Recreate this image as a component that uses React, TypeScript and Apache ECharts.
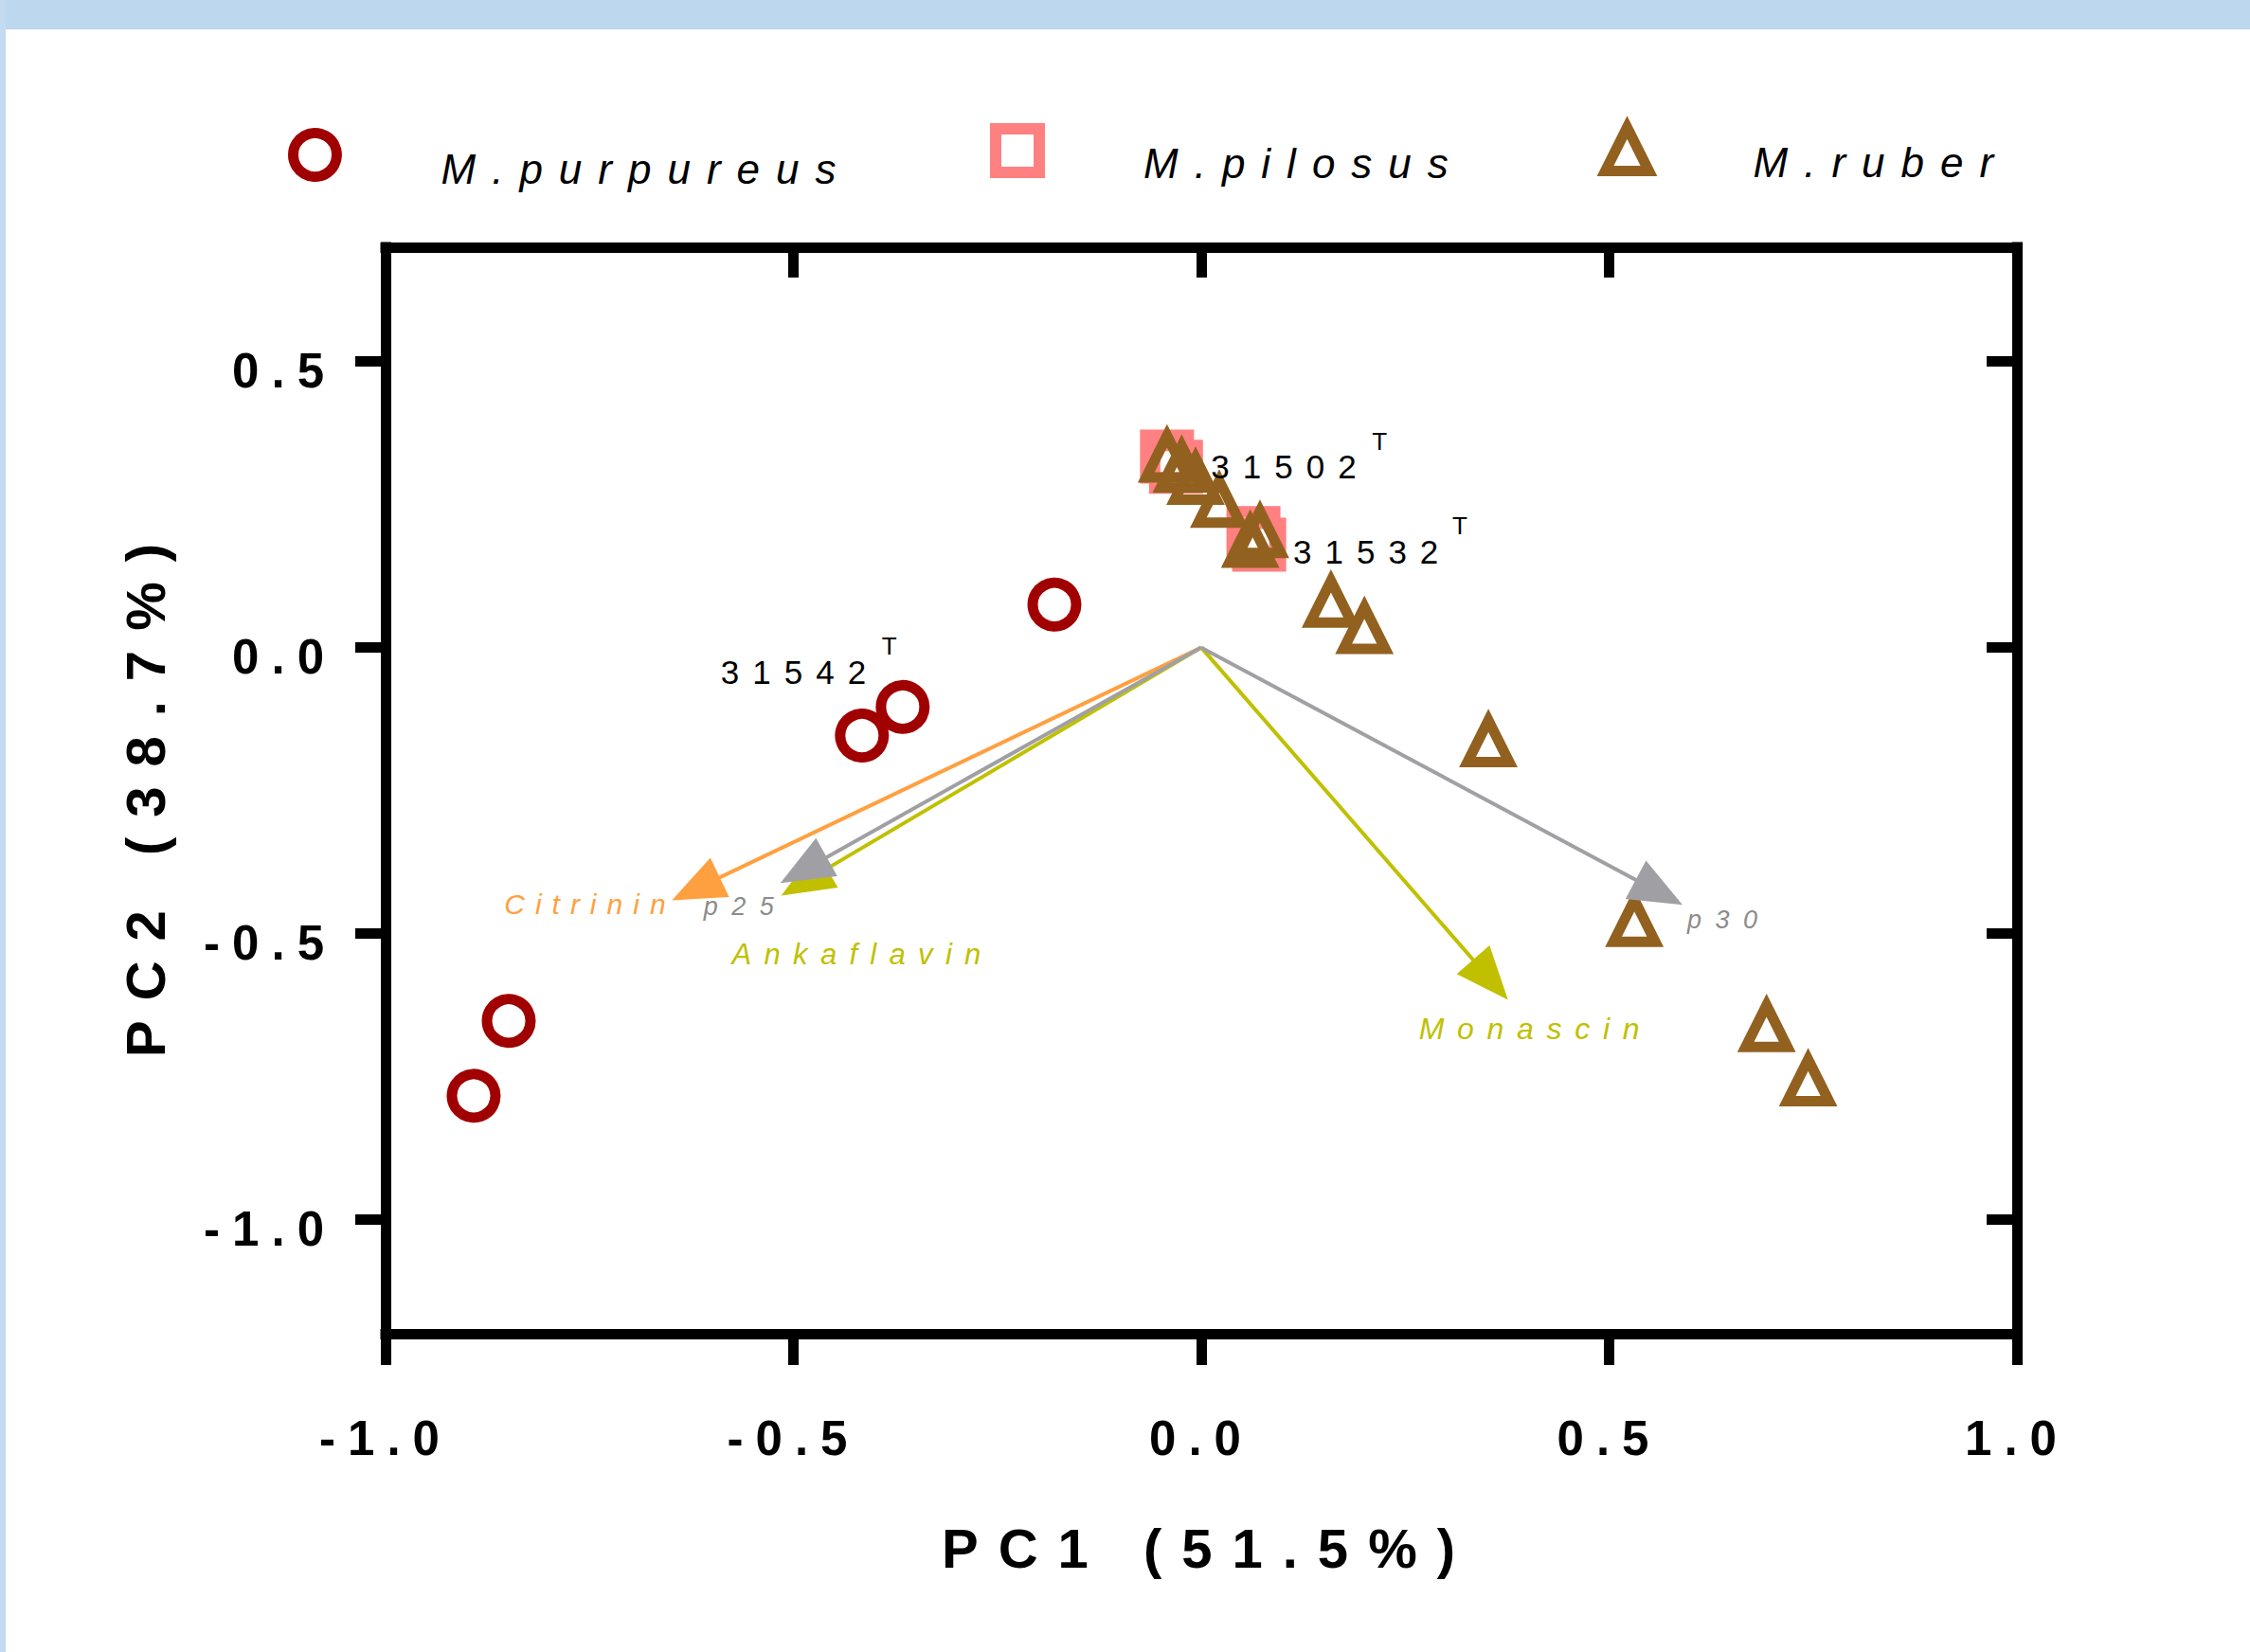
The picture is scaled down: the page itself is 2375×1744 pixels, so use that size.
import React, { useEffect, useRef } from 'react';
import * as echarts from 'echarts';

const FONT = '"Liberation Sans", Arial, Helvetica, sans-serif';

// ---- axes ----
const xRange = [-1.0, 1.0];
const yRange = [-1.2, 0.7];
const xTicks = [-1.0, -0.5, 0.0, 0.5, 1.0];
const yTicks = [-1.0, -0.5, 0.0, 0.5];
const topTicks = [-0.5, 0.0, 0.5];
const xTitle = 'PC1 (51.5%)';
const yTitle = 'PC2 (38.7%)';

// ---- scores ----
const speciesNames = ['M.purpureus', 'M.pilosus', 'M.ruber'];

const purpureusX = [-0.18, -0.366, -0.416, -0.849, -0.892];
const purpureusY = [0.075, -0.104, -0.154, -0.653, -0.784];

const pilosusX = [-0.042, -0.031, 0.064, 0.071];
const pilosusY = [0.334, 0.316, 0.2, 0.18];

const ruberX = [-0.042, -0.024, -0.007, 0.022, 0.06, 0.072, 0.159, 0.2, 0.352, 0.531, 0.693, 0.744];
const ruberY = [0.334, 0.316, 0.295, 0.255, 0.185, 0.202, 0.08, 0.034, -0.164, -0.478, -0.662, -0.757];

// ---- loadings (arrow tips) ----
const loadingNames = ['Ankaflavin', 'Citrinin', 'p25', 'Monascin', 'p30'];
const loadingX = [-0.515, -0.649, -0.516, 0.376, 0.59];
const loadingY = [-0.434, -0.442, -0.412, -0.616, -0.45];

// ---- strain annotations ----
const strainLabels = ['31502', '31532', '31542'];
const strainSpecies = ['M.ruber', 'M.ruber', 'M.purpureus'];
const strainIndex = [1, 5, 1];

// ---- styles ----
const speciesStyle: Record<string, any> = {
  'M.purpureus': { symbol: 'circle', size: 46, color: '#A00000', border: 11, legendLeft: 304, legendTop: 135, textPad: 30 },
  'M.pilosus': { symbol: 'rect', size: 45, color: '#FF8080', border: 12, legendLeft: 1045, legendTop: 130, textPad: 26 },
  'M.ruber': { symbol: 'triangle', size: 44, color: '#926120', border: 11, legendLeft: 1689, legendTop: 129, textPad: 27 },
};

const loadingStyle: Record<string, any> = {
  Ankaflavin: { color: '#C0C000', text: '#C0C000', size: 31, dx: -52, dy: 62 },
  Citrinin: { color: '#FFA040', text: '#FFA040', size: 30, dx: -177, dy: 4.5 },
  p25: { color: '#A0A0A4', text: '#8C8C8C', size: 27, dx: -81, dy: 24.5 },
  Monascin: { color: '#C0C000', text: '#C0C000', size: 32, dx: -94, dy: 31 },
  p30: { color: '#A0A0A4', text: '#8C8C8C', size: 27, dx: 5, dy: 15.5 },
};

const strainStyle = [
  { dx: 31, dy: 0, supDx: 201, supDy: -27 },
  { dx: 35, dy: 20.5, supDx: 203, supDy: -7 },
  { dx: -192, dy: -36.5, supDx: -22, supDy: -64.5 },
];

const css = `
.pca text[style*="51px"] { letter-spacing: 13px; }
.pca text[style*="58px"] { letter-spacing: 21px; }
.pca text[style*="44px"] { letter-spacing: 17px; }
.pca text[style*="35px"] { letter-spacing: 14px; }
.pca text[style*="30px"] { letter-spacing: 11px; }
.pca text[style*="31px"] { letter-spacing: 13.3px; }
.pca text[style*="32px"] { letter-spacing: 13.7px; }
.pca text[style*="27px"] { letter-spacing: 14.5px; }
`;

const speciesX: Record<string, number[]> = { 'M.purpureus': purpureusX, 'M.pilosus': pilosusX, 'M.ruber': ruberX };
const speciesY: Record<string, number[]> = { 'M.purpureus': purpureusY, 'M.pilosus': pilosusY, 'M.ruber': ruberY };

export default function App() {
  const ref = useRef<HTMLDivElement>(null);

  useEffect(() => {
    document.body.style.margin = '0';
    if (!ref.current) return;
    const chart = echarts.init(ref.current, null, { renderer: 'svg' });

    const axisLineStyle = { color: '#000', width: 11, cap: 'square' };

    const scatterSeries = speciesNames.map((n) => {
      const st = speciesStyle[n];
      return {
        type: 'scatter',
        name: n,
        xAxisIndex: 0,
        yAxisIndex: 0,
        symbol: st.symbol,
        symbolSize: st.size,
        itemStyle: { color: 'rgba(255,255,255,0)', borderColor: st.color, borderWidth: st.border, opacity: 1 },
        data: speciesX[n].map((x, i) => [x, speciesY[n][i]]),
        z: 2,
      };
    });

    const arrowSeries = {
      type: 'custom',
      name: 'loadings',
      coordinateSystem: 'cartesian2d',
      xAxisIndex: 0,
      yAxisIndex: 0,
      z: 3,
      silent: true,
      data: loadingNames.map((n, i) => [loadingX[i], loadingY[i], i]),
      renderItem: (params: any, api: any) => {
        const i = api.value(2);
        const name = loadingNames[i];
        const st = loadingStyle[name];
        const tip = api.coord([api.value(0), api.value(1)]);
        const o = api.coord([0, 0]);
        const dx = tip[0] - o[0];
        const dy = tip[1] - o[1];
        const len = Math.hypot(dx, dy);
        const ux = dx / len;
        const uy = dy / len;
        const headLen = 56;
        const headW = 46;
        const bx = tip[0] - ux * headLen;
        const by = tip[1] - uy * headLen;
        const px = -uy;
        const py = ux;
        return {
          type: 'group',
          children: [
            {
              type: 'line',
              shape: { x1: o[0], y1: o[1], x2: bx + ux * 4, y2: by + uy * 4 },
              style: { stroke: st.color, lineWidth: 4 },
            },
            {
              type: 'polygon',
              shape: {
                points: [
                  [tip[0], tip[1]],
                  [bx + (px * headW) / 2, by + (py * headW) / 2],
                  [bx - (px * headW) / 2, by - (py * headW) / 2],
                ],
              },
              style: { fill: st.color },
            },
            {
              type: 'text',
              x: tip[0] + st.dx,
              y: tip[1] + st.dy,
              style: {
                text: name,
                fill: st.text,
                fontSize: st.size,
                fontStyle: 'italic',
                fontFamily: FONT,
                align: 'left',
                verticalAlign: 'middle',
              },
            },
          ],
        };
      },
    };

    const strainSeries = {
      type: 'custom',
      name: 'strains',
      coordinateSystem: 'cartesian2d',
      xAxisIndex: 0,
      yAxisIndex: 0,
      z: 4,
      silent: true,
      data: strainLabels.map((s, i) => [
        speciesX[strainSpecies[i]][strainIndex[i]],
        speciesY[strainSpecies[i]][strainIndex[i]],
        i,
      ]),
      renderItem: (params: any, api: any) => {
        const i = api.value(2);
        const st = strainStyle[i];
        const p = api.coord([api.value(0), api.value(1)]);
        return {
          type: 'group',
          children: [
            {
              type: 'text',
              x: p[0] + st.dx,
              y: p[1] + st.dy,
              style: { text: strainLabels[i], fill: '#000', fontSize: 35, fontFamily: FONT, align: 'left', verticalAlign: 'middle' },
            },
            {
              type: 'text',
              x: p[0] + st.supDx,
              y: p[1] + st.supDy,
              style: { text: 'T', fill: '#000', fontSize: 26, fontFamily: FONT, align: 'left', verticalAlign: 'middle' },
            },
          ],
        };
      },
    };

    const option: any = {
      animation: false,
      backgroundColor: '#FFFFFF',
      textStyle: { fontFamily: FONT },
      graphic: {
        elements: [
          { type: 'rect', left: 0, top: 0, shape: { width: 2375, height: 31 }, style: { fill: '#BDD7EE' }, silent: true },
          { type: 'rect', left: 0, top: 0, shape: { width: 6, height: 1744 }, style: { fill: '#C3DBF0' }, silent: true },
        ],
      },
      legend: speciesNames.map((n) => {
        const st = speciesStyle[n];
        return {
          data: [n],
          left: st.legendLeft,
          top: st.legendTop,
          padding: 0,
          itemWidth: 46,
          itemHeight: 46,
          selectedMode: false,
          itemStyle: { borderWidth: st.border, borderColor: st.color, color: 'rgba(255,255,255,0)' },
          formatter: (name: string) => `{t|${name}}`,
          textStyle: {
            fontSize: 44,
            fontStyle: 'italic',
            fontFamily: FONT,
            color: '#000',
            rich: {
              t: {
                fontSize: 44,
                fontStyle: 'italic',
                fontFamily: FONT,
                color: '#000',
                padding: [st.textPad, 0, 0, 105],
              },
            },
          },
        };
      }),
      grid: { left: 407, top: 261, right: 246, bottom: 336, containLabel: false },
      xAxis: [
        {
          type: 'value',
          position: 'bottom',
          min: xRange[0],
          max: xRange[1],
          splitLine: { show: false },
          axisLine: { onZero: false, lineStyle: axisLineStyle },
          axisTick: { customValues: xTicks, length: 33, inside: false, lineStyle: { color: '#000', width: 11 } },
          axisLabel: {
            customValues: xTicks,
            formatter: (v: number) => v.toFixed(1),
            fontSize: 51,
            fontWeight: 'bold',
            fontFamily: FONT,
            color: '#000',
            margin: 85,
          },
          name: xTitle,
          nameLocation: 'middle',
          nameGap: 197,
          nameTextStyle: { fontSize: 58, fontWeight: 'bold', fontFamily: FONT, color: '#000', padding: [0, 0, 0, 15] },
        },
        {
          type: 'value',
          position: 'top',
          min: xRange[0],
          max: xRange[1],
          splitLine: { show: false },
          axisLine: { onZero: false, lineStyle: axisLineStyle },
          axisTick: { customValues: topTicks, length: 32, inside: true, lineStyle: { color: '#000', width: 11 } },
          axisLabel: { show: false },
        },
      ],
      yAxis: [
        {
          type: 'value',
          position: 'left',
          min: yRange[0],
          max: yRange[1],
          splitLine: { show: false },
          axisLine: { onZero: false, lineStyle: axisLineStyle },
          axisTick: { customValues: yTicks, length: 32, inside: false, lineStyle: { color: '#000', width: 11 } },
          axisLabel: {
            customValues: yTicks,
            formatter: (v: number) => `{v|${v.toFixed(1)}}`,
            margin: 52,
            rich: {
              v: {
                fontSize: 51,
                fontWeight: 'bold',
                fontFamily: FONT,
                color: '#000',
                padding: [20, 0, 0, 0],
              },
            },
          },
          name: yTitle,
          nameLocation: 'middle',
          nameGap: 225,
          nameTextStyle: { fontSize: 58, fontWeight: 'bold', fontFamily: FONT, color: '#000' },
        },
        {
          type: 'value',
          position: 'right',
          min: yRange[0],
          max: yRange[1],
          splitLine: { show: false },
          axisLine: { onZero: false, lineStyle: axisLineStyle },
          axisTick: { customValues: yTicks, length: 32, inside: true, lineStyle: { color: '#000', width: 11 } },
          axisLabel: { show: false },
        },
      ],
      series: [...scatterSeries, arrowSeries, strainSeries],
    };

    chart.setOption(option);
    return () => {
      chart.dispose();
    };
  }, []);

  return (
    <>
      <style>{css}</style>
      <div className="pca" ref={ref} style={{ width: 2375, height: 1744 }} />
    </>
  );
}
